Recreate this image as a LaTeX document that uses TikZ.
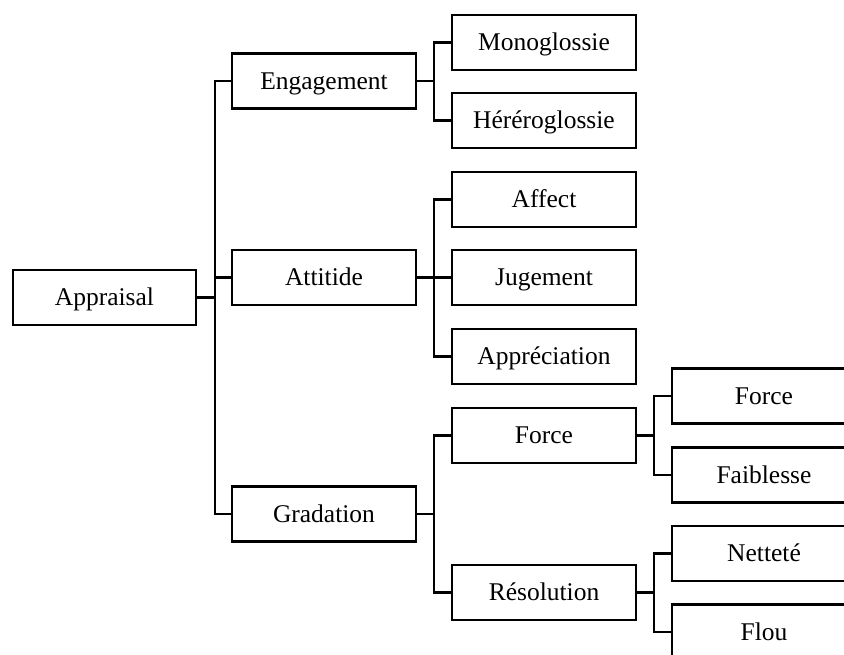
\documentclass[tikz,border=0pt]{standalone}
\usepackage{fontspec}
\setmainfont{Liberation Serif}
\begin{document}
\begin{tikzpicture}[x=1pt,y=-1pt,
  box/.style={draw=black,line width=2.4pt,fill=white,minimum width=184pt,minimum height=55pt,
    inner sep=0pt,text height=16.5pt,text depth=0pt,font=\fontsize{25.5}{29}\selectfont},
  link/.style={line width=2.4pt,line join=miter}]
\useasboundingbox (0,0) rectangle (844,655);
\clip (0,0) rectangle (844,655);
% nodes
\node[box,minimum width=183pt] (app) at (104.5,297.5) {Appraisal};
\node[box] (eng) at (324,81) {Engagement};
\node[box] (att) at (324,277.5) {Attitide};
\node[box] (grad) at (324,514) {Gradation};
\node[box] (mono) at (544,42.5) {Monoglossie};
\node[box] (het) at (544,120.5) {Héréroglossie};
\node[box] (aff) at (544,199.5) {Affect};
\node[box] (jug) at (544,277.5) {Jugement};
\node[box] (appr) at (544,356.5) {Appréciation};
\node[box] (forA) at (544,435.5) {Force};
\node[box] (res) at (544,592.5) {Résolution};
\node[box] (forB) at (764,396) {Force};
\node[box] (faib) at (764,475) {Faiblesse};
\node[box] (net) at (764,553.5) {Netteté};
\node[box] (flou) at (764,632) {Flou};
% connectors
\foreach \c in {eng,att,grad} \draw[link] (app.east) -- ++(18,0) |- (\c.west);
\foreach \c in {mono,het} \draw[link] (eng.east) -- ++(17,0) |- (\c.west);
\foreach \c in {aff,jug,appr} \draw[link] (att.east) -- ++(17,0) |- (\c.west);
\foreach \c in {forA,res} \draw[link] (grad.east) -- ++(17,0) |- (\c.west);
\foreach \c in {forB,faib} \draw[link] (forA.east) -- ++(17,0) |- (\c.west);
\foreach \c in {net,flou} \draw[link] (res.east) -- ++(17,0) |- (\c.west);
\end{tikzpicture}
\end{document}
